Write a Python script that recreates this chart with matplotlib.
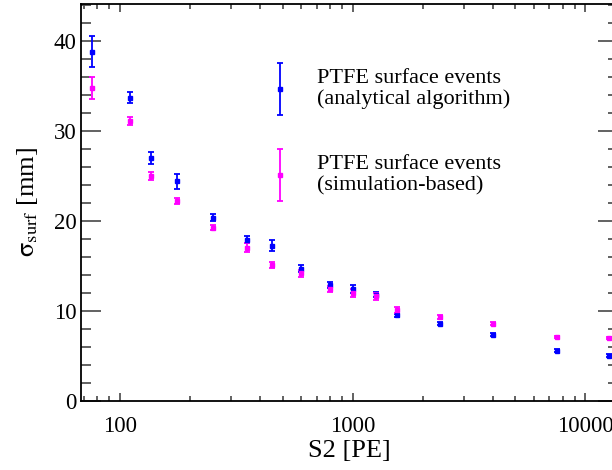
import matplotlib
matplotlib.use("Agg")
import matplotlib.pyplot as plt
from matplotlib.ticker import FixedLocator, LogLocator, NullFormatter

plt.rcParams['font.family'] = ['Liberation Serif', 'DejaVu Serif']
plt.rcParams['mathtext.fontset'] = 'stix'

# S2 bins [PE]
s2 = [76, 110, 135.5, 175, 251, 350, 450, 600, 800, 1000, 1255, 1550, 2370, 4010, 7530, 12600]
# analytical algorithm
sig_ana = [38.8, 33.7, 27.0, 24.4, 20.35, 17.9, 17.25, 14.7, 12.9, 12.45, 11.8, 9.5, 8.6, 7.35, 5.6, 5.05]
err_ana = [1.75, 0.6, 0.65, 0.8, 0.4, 0.4, 0.6, 0.4, 0.35, 0.4, 0.3, 0.2, 0.15, 0.15, 0.15, 0.15]
# simulation-based
sig_sim = [34.8, 31.1, 25.0, 22.2, 19.25, 17.0, 15.1, 14.2, 12.45, 11.95, 11.65, 10.1, 9.35, 8.6, 7.1, 7.0]
err_sim = [1.2, 0.4, 0.4, 0.3, 0.25, 0.5, 0.3, 0.4, 0.35, 0.45, 0.4, 0.3, 0.2, 0.15, 0.15, 0.15]

fig = plt.figure(figsize=(6.12, 4.70), dpi=100)
ax = fig.add_axes([80.7 / 612, 1 - 401 / 470, (618 - 80.7) / 612, (401 - 4) / 470])

kw = dict(fmt='s', markersize=3.5, elinewidth=1.3, capsize=2.5, capthick=1.3)
ax.errorbar(s2, sig_ana, yerr=err_ana, color='#0000ff', **kw)
ax.errorbar(s2, sig_sim, yerr=err_sim, color='#ff00ff', **kw)

ax.set_xscale('log')
ax.set_xlim(67.8, 13800)
ax.set_ylim(0, 44.1)

ax.yaxis.set_major_locator(FixedLocator([0, 10, 20, 30, 40]))
ax.yaxis.set_minor_locator(FixedLocator([v for v in range(0, 45, 2) if v % 10]))
ax.xaxis.set_major_locator(LogLocator(base=10))
ax.xaxis.set_minor_locator(LogLocator(base=10, subs=range(2, 10)))
ax.xaxis.set_minor_formatter(NullFormatter())
ax.set_xticks([100, 1000, 10000])
ax.set_xticklabels(['100', '1000', '10000'])

ax.tick_params(which='both', direction='in', top=True, right=True, colors='#555555',
               labelcolor='black', labelsize=16.5, width=1.3)
ax.tick_params(axis='y', which='major', length=14.5, pad=3)
ax.tick_params(axis='y', which='minor', length=7)
ax.tick_params(axis='x', which='major', length=6)
ax.tick_params(axis='x', which='minor', length=3.5)
ax.tick_params(axis='x', pad=11)
for sp in ax.spines.values():
    sp.set_linewidth(1.3)

ax.set_xlabel('S2 [PE]', fontsize=19, labelpad=2)
ax.set_ylabel(r'$\mathrm{\sigma_{surf}}$ [mm]', fontsize=19, labelpad=10)

# legend drawn by hand as in the original
lx = 10 ** (2 + (280 - 120) / 232.7)
ax.errorbar([lx], [(401 - 89) / 9], yerr=[2.85], color='#0000ff', **kw)
ax.errorbar([lx], [(401 - 175) / 9], yerr=[2.85], color='#ff00ff', **kw)
tx = 317 / 612
fig.text(tx, 1 - 89 / 470, 'PTFE surface events\n(analytical algorithm)', fontsize=16,
         va='center', ha='left', linespacing=1.15)
fig.text(tx, 1 - 175 / 470, 'PTFE surface events\n(simulation-based)', fontsize=16,
         va='center', ha='left', linespacing=1.15)

fig.savefig('out.png', dpi=100)
